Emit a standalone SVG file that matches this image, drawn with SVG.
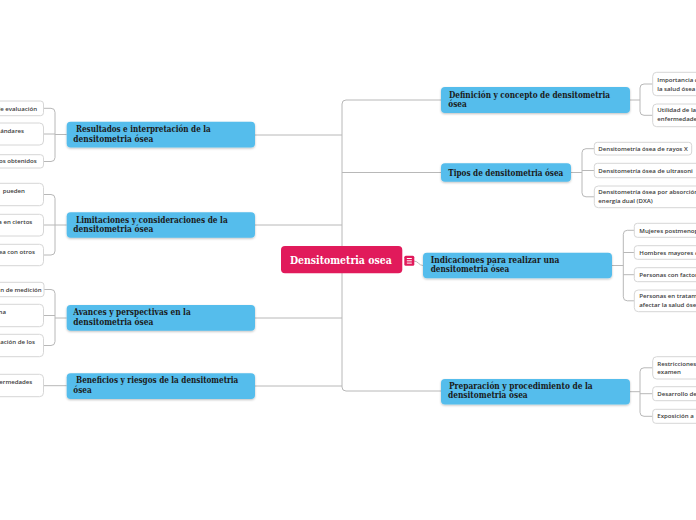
<svg xmlns="http://www.w3.org/2000/svg" width="696" height="520" viewBox="0 0 696 520">
<style>
.bg{fill:#fff}
.conn path{fill:none;stroke:#b8b8b8;stroke-width:1}
.main rect{fill:#55bdec}
.mt{font-family:"DejaVu Serif Condensed","DejaVu Serif",serif;font-weight:bold;font-size:9.5px;fill:#1a1a1a}
.child rect{fill:#fff;stroke:#d6d6d6;stroke-width:1}
.ct{font-family:"Open Sans","Noto Sans",sans-serif;font-size:6.1px;font-weight:600;fill:#3a3a3a}
.ctr{font-family:"DejaVu Serif Condensed","DejaVu Serif",serif;font-weight:bold;font-size:11px;fill:#fff}
</style>
<defs>
<filter id="sh" x="-5%" y="-20%" width="110%" height="150%">
<feDropShadow dx="0" dy="1" stdDeviation="0.8" flood-color="#000" flood-opacity="0.25"/>
</filter>
</defs>
<rect class="bg" x="0" y="0" width="696" height="520"/>
<g id="connectors" class="conn">
<path d="M441 100H346Q342 100 342 104V387Q342 391 346 391H441"/>
<path d="M342 172.5H441"/>
<path d="M255 135H342M255 225H342M255 318H342M255 386H342"/>
<path d="M414 261C418 261 419 265.5 423 265.5"/>
<path d="M630 100H640M652.7 84H644Q640 84 640 88V111.3Q640 115.3 644 115.3H652.7"/>
<path d="M571 172.5H582M594.3 148.7H586Q582 148.7 582 152.7V192.8Q582 196.8 586 196.8H594.3M582 170.5H594.3"/>
<path d="M612 265.5H623.3M634.3 230.3H627.3Q623.3 230.3 623.3 234.3V296.8Q623.3 300.8 627.3 300.8H634.3M623.3 252.5H634.3M623.3 274.7H634.3"/>
<path d="M630 391.7H640M652.7 367.8H644Q640 367.8 640 371.8V412.3Q640 416.3 644 416.3H652.7M640 393.7H652.7"/>
<path d="M66.7 134.5H55M43.5 108.3H51Q55 108.3 55 112.3V157.5Q55 161.5 51 161.5H43.5M55 134H43.5"/>
<path d="M66.7 225H55M43.5 194.5H51Q55 194.5 55 198.5V251Q55 255 51 255H43.5M55 225H43.5"/>
<path d="M66.7 318H55M43.5 289.5H51Q55 289.5 55 293.5V341.5Q55 345.5 51 345.5H43.5M55 315.5H43.5"/>
<path d="M66.7 385.7H43.5"/>
</g>
<g id="center">
<rect x="281" y="246" width="121.3" height="27.3" rx="4" fill="#e11a5b"/>
<text class="ctr" x="290" y="263.5" textLength="101.7" lengthAdjust="spacingAndGlyphs">Densitometria osea</text>
<rect x="404.3" y="255.8" width="10" height="10" rx="1.5" fill="#e11a5b"/>
<path d="M406.8 258.5H411.8M406.8 260.8H411.8M406.8 263.1H411.8" stroke="#fff" stroke-width="1" fill="none"/>
</g>
<g id="n-definicion" class="main">
<rect x="441" y="87" width="189" height="26" rx="4" filter="url(#sh)"/>
<text class="mt" x="449" y="97.5" textLength="161" lengthAdjust="spacingAndGlyphs">Definición y concepto de densitometria</text>
<text class="mt" x="448.3" y="107" textLength="18.5" lengthAdjust="spacingAndGlyphs">ósea</text>
</g>
<g id="n-tipos" class="main">
<rect x="441" y="163.3" width="130" height="18.4" rx="4" filter="url(#sh)"/>
<text class="mt" x="448.3" y="175.6" textLength="115" lengthAdjust="spacingAndGlyphs">Tipos de densitometria ósea</text>
</g>
<g id="n-indicaciones" class="main">
<rect x="423" y="252.7" width="189" height="25.6" rx="4" filter="url(#sh)"/>
<text class="mt" x="430.7" y="262.5" textLength="128.6" lengthAdjust="spacingAndGlyphs">Indicaciones para realizar una</text>
<text class="mt" x="430.7" y="272" textLength="78.6" lengthAdjust="spacingAndGlyphs">densitometria ósea</text>
</g>
<g id="n-preparacion" class="main">
<rect x="441" y="379" width="189" height="25.6" rx="4" filter="url(#sh)"/>
<text class="mt" x="449" y="388.6" textLength="143.7" lengthAdjust="spacingAndGlyphs">Preparación y procedimiento de la</text>
<text class="mt" x="448" y="398.2" textLength="79.7" lengthAdjust="spacingAndGlyphs">densitometria ósea</text>
</g>
<g id="n-resultados" class="main">
<rect x="66.7" y="121.7" width="188.3" height="25.8" rx="4" filter="url(#sh)"/>
<text class="mt" x="76" y="132" textLength="134.7" lengthAdjust="spacingAndGlyphs">Resultados e interpretación de la</text>
<text class="mt" x="73.3" y="141.5" textLength="80" lengthAdjust="spacingAndGlyphs">densitometria ósea</text>
</g>
<g id="n-limitaciones" class="main">
<rect x="66.7" y="212.3" width="188.3" height="25.5" rx="4" filter="url(#sh)"/>
<text class="mt" x="76" y="222.5" textLength="151.7" lengthAdjust="spacingAndGlyphs">Limitaciones y consideraciones de la</text>
<text class="mt" x="73.3" y="232.2" textLength="80" lengthAdjust="spacingAndGlyphs">densitometria ósea</text>
</g>
<g id="n-avances" class="main">
<rect x="66.7" y="305" width="188.3" height="25.7" rx="4" filter="url(#sh)"/>
<text class="mt" x="73.3" y="315" textLength="117.4" lengthAdjust="spacingAndGlyphs">Avances y perspectivas en la</text>
<text class="mt" x="73.3" y="324.6" textLength="80" lengthAdjust="spacingAndGlyphs">densitometria ósea</text>
</g>
<g id="n-beneficios" class="main">
<rect x="66.7" y="373.3" width="188.3" height="25.7" rx="4" filter="url(#sh)"/>
<text class="mt" x="76" y="383.3" textLength="162.3" lengthAdjust="spacingAndGlyphs">Beneficios y riesgos de la densitometria</text>
<text class="mt" x="73.3" y="393" textLength="18.4" lengthAdjust="spacingAndGlyphs">ósea</text>
</g>
<g id="c-def1" class="child"><rect x="652.7" y="72.3" width="70" height="23.4" rx="4"/><text class="ct" x="657.3" y="82">Importancia d</text><text class="ct" x="657.3" y="90.5">la salud ósea</text></g>
<g id="c-def2" class="child"><rect x="652.7" y="104" width="70" height="22.7" rx="4"/><text class="ct" x="657.3" y="112">Utilidad de la</text><text class="ct" x="657.3" y="120.5">enfermedade</text></g>
<g id="c-tip1" class="child"><rect x="594.3" y="142.3" width="97.4" height="12.7" rx="3"/><text class="ct" x="598.3" y="150.8" textLength="89.4" lengthAdjust="spacingAndGlyphs">Densitometría ósea de rayos X</text></g>
<g id="c-tip2" class="child"><rect x="594.3" y="163.3" width="120" height="14.4" rx="3"/><text class="ct" x="598.3" y="172.5">Densitometría ósea de ultrasoni</text></g>
<g id="c-tip3" class="child"><rect x="594.3" y="186" width="120" height="21.7" rx="4"/><text class="ct" x="598.3" y="194">Densitometría ósea por absorción</text><text class="ct" x="598.3" y="202.5">energía dual (DXA)</text></g>
<g id="c-ind1" class="child"><rect x="634.3" y="223.3" width="80" height="14" rx="3"/><text class="ct" x="639.3" y="232.5">Mujeres postmenop</text></g>
<g id="c-ind2" class="child"><rect x="634.3" y="245.7" width="80" height="13.6" rx="3"/><text class="ct" x="639.3" y="254.8">Hombres mayores d</text></g>
<g id="c-ind3" class="child"><rect x="634.3" y="267.7" width="80" height="14" rx="3"/><text class="ct" x="639.3" y="276.8">Personas con factor</text></g>
<g id="c-ind4" class="child"><rect x="634.3" y="290" width="80" height="21.7" rx="4"/><text class="ct" x="639.3" y="298">Personas en tratam</text><text class="ct" x="639.3" y="306.5">afectar la salud ósea</text></g>
<g id="c-pre1" class="child"><rect x="652.7" y="356.7" width="70" height="22.3" rx="4"/><text class="ct" x="657.3" y="365.5">Restricciones</text><text class="ct" x="657.3" y="374">examen</text></g>
<g id="c-pre2" class="child"><rect x="652.7" y="386.7" width="70" height="14" rx="3"/><text class="ct" x="657.3" y="395.5">Desarrollo de</text></g>
<g id="c-pre3" class="child"><rect x="652.7" y="409.3" width="70" height="14" rx="3"/><text class="ct" x="657.3" y="418">Exposición a</text></g>
<g id="c-res1" class="child"><rect x="-40" y="101" width="83.5" height="14.7" rx="3"/><text class="ct" x="37" y="110.5" text-anchor="end">de evaluación</text></g>
<g id="c-res2" class="child"><rect x="-40" y="123" width="83.5" height="22" rx="4"/><text class="ct" x="24" y="132.5" text-anchor="end">ándares</text></g>
<g id="c-res3" class="child"><rect x="-40" y="154.7" width="83.5" height="13.3" rx="3"/><text class="ct" x="36.7" y="163.3" text-anchor="end">los obtenidos</text></g>
<g id="c-lim1" class="child"><rect x="-40" y="183.3" width="83.5" height="22.4" rx="4"/><text class="ct" x="25" y="192.5" text-anchor="end">pueden</text></g>
<g id="c-lim2" class="child"><rect x="-40" y="214.3" width="83.5" height="21.7" rx="4"/><text class="ct" x="32.3" y="223.5" text-anchor="end">a en ciertos</text></g>
<g id="c-lim3" class="child"><rect x="-40" y="244.3" width="83.5" height="21.4" rx="4"/><text class="ct" x="35" y="254" text-anchor="end">ea con otros</text></g>
<g id="c-ava1" class="child"><rect x="-40" y="282.3" width="84" height="14.4" rx="3"/><text class="ct" x="41.7" y="291.8" text-anchor="end">n de medición</text></g>
<g id="c-ava2" class="child"><rect x="-40" y="304.3" width="83.5" height="22.4" rx="4"/><text class="ct" x="6" y="313.5" text-anchor="end">na</text></g>
<g id="c-ava3" class="child"><rect x="-40" y="334.3" width="83.5" height="22.4" rx="4"/><text class="ct" x="35" y="343.5" text-anchor="end">ación de los</text></g>
<g id="c-ben1" class="child"><rect x="-40" y="374.3" width="83.5" height="22.4" rx="4"/><text class="ct" x="32.3" y="383.5" text-anchor="end">ermedades</text></g>
</svg>
